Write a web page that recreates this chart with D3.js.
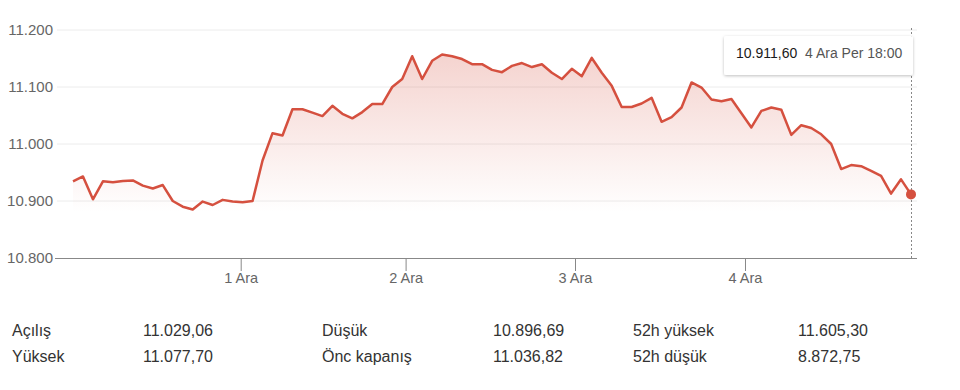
<!DOCTYPE html>
<html>
<head>
<meta charset="utf-8">
<script src="https://cdn.jsdelivr.net/npm/d3@7"></script>
<style>
  html, body { margin: 0; padding: 0; background: #fff; }
  svg { display: block; font-family: "Liberation Sans", Arial, Helvetica, sans-serif; }
</style>
</head>
<body>
<svg id="chart" width="960" height="390"></svg>
<script>
// ---- data ----
const values = [
  10934.6, 10943, 10903, 10934.6, 10933, 10935, 10936, 10927, 10922, 10928,
  10900, 10890, 10885, 10899, 10893, 10902, 10899,
  10898, 10900, 10971, 11019, 11015, 11061, 11061, 11055, 11049, 11067,
  11053, 11045, 11056, 11070, 11070, 11100, 11114,
  11154, 11114, 11146, 11157, 11154, 11149, 11140, 11140, 11130, 11126,
  11137, 11142, 11135, 11140, 11125, 11114, 11132,
  11119, 11151, 11125, 11102, 11065, 11065, 11071, 11081, 11039, 11047,
  11064, 11108, 11099, 11078, 11075, 11079, 11054,
  11029, 11058, 11064, 11060, 11016, 11033, 11028, 11017, 11000, 10956,
  10963, 10961, 10953, 10944, 10913, 10938, 10911.6
];
const yTicks = [10800, 10900, 11000, 11100, 11200];
const xTickPositions = [16.81, 33.34, 50.32, 67.36];
const xTickLabels = ["1 Ara", "2 Ara", "3 Ara", "4 Ara"];
const tooltipValue = "10.911,60";
const tooltipTime = "4 Ara Per 18:00";
const statLabels1 = ["Açılış", "Yüksek"];
const statValues1 = ["11.029,06", "11.077,70"];
const statLabels2 = ["Düşük", "Önc kapanış"];
const statValues2 = ["10.896,69", "11.036,82"];
const statLabels3 = ["52h yüksek", "52h düşük"];
const statValues3 = ["11.605,30", "8.872,75"];

// ---- layout ----
const svg = d3.select("#chart");
const lineColor = "#d5503f";
const fmt = v => d3.format(",")(v).replace(/,/g, ".");

const x = d3.scaleLinear().domain([0, values.length - 1]).range([73, 911]);
const y = d3.scaleLinear().domain([10800, 11200]).range([258, 30]);

// gradient
const defs = svg.append("defs");
const grad = defs.append("linearGradient")
  .attr("id", "areaGrad").attr("gradientUnits", "userSpaceOnUse")
  .attr("x1", 0).attr("x2", 0).attr("y1", 54).attr("y2", 212);
grad.append("stop").attr("offset", 0).attr("stop-color", lineColor).attr("stop-opacity", 0.25);
grad.append("stop").attr("offset", 1).attr("stop-color", lineColor).attr("stop-opacity", 0);

const shadow = defs.append("filter").attr("id", "shadow")
  .attr("x", "-10%").attr("y", "-30%").attr("width", "120%").attr("height", "170%");
shadow.append("feDropShadow").attr("dx", 0).attr("dy", 1).attr("stdDeviation", 1.5)
  .attr("flood-color", "#000").attr("flood-opacity", 0.25);

// gridlines
svg.append("g").selectAll("line").data(yTicks.slice(1)).join("line")
  .attr("x1", 57).attr("x2", 917)
  .attr("y1", d => y(d)).attr("y2", d => y(d))
  .attr("stroke", "#ececec").attr("stroke-width", 1);

// y labels
svg.append("g").selectAll("text").data(yTicks).join("text")
  .attr("x", 53).attr("y", d => y(d)).attr("dy", "0.35em")
  .attr("text-anchor", "end").attr("font-size", 15).attr("fill", "#666")
  .text(d => fmt(d));

// area
const area = d3.area().x((d, i) => x(i)).y0(258).y1(d => y(d));
svg.append("path").datum(values).attr("d", area).attr("fill", "url(#areaGrad)");

// x axis
const xAxis = d3.axisBottom(x)
  .tickValues(xTickPositions)
  .tickFormat((d, i) => xTickLabels[i])
  .tickSize(13).tickSizeOuter(0).tickPadding(2);
const gx = svg.append("g").attr("transform", "translate(0,258)").call(xAxis);
gx.select(".domain").remove();
gx.selectAll(".tick line").attr("stroke", "#888");
gx.selectAll(".tick text").attr("font-size", 14.5).attr("fill", "#666")
  .attr("font-family", "Liberation Sans, Arial, sans-serif");
svg.append("line").attr("x1", 55).attr("x2", 917).attr("y1", 258.5).attr("y2", 258.5)
  .attr("stroke", "#888").attr("stroke-width", 1);

// dotted marker line
const lastX = x(values.length - 1);
svg.append("line").attr("x1", lastX + 0.5).attr("x2", lastX + 0.5).attr("y1", 28).attr("y2", 258)
  .attr("stroke", "#888").attr("stroke-width", 1).attr("stroke-dasharray", "2,2");

// line
const line = d3.line().x((d, i) => x(i)).y(d => y(d));
svg.append("path").datum(values).attr("d", line)
  .attr("fill", "none").attr("stroke", lineColor).attr("stroke-width", 2.5)
  .attr("stroke-linejoin", "round");

// end dot
svg.append("circle").attr("cx", lastX).attr("cy", y(values[values.length - 1]))
  .attr("r", 5).attr("fill", lineColor);

// tooltip
const tip = svg.append("g");
tip.append("rect").attr("x", 724).attr("y", 36).attr("width", 189).attr("height", 39)
  .attr("rx", 2).attr("fill", "#fff").attr("filter", "url(#shadow)");
tip.append("text").attr("x", 736).attr("y", 58).attr("font-size", 14)
  .attr("fill", "#1a1a1a").text(tooltipValue);
tip.append("text").attr("x", 805).attr("y", 58).attr("font-size", 14)
  .attr("fill", "#555").text(tooltipTime);

// stats
const rowsY = [335.5, 362];
const cols = [
  {x: 12, data: statLabels1}, {x: 143, data: statValues1},
  {x: 322, data: statLabels2}, {x: 493, data: statValues2},
  {x: 633, data: statLabels3}, {x: 798, data: statValues3}
];
cols.forEach(c => {
  svg.append("g").selectAll("text").data(c.data).join("text")
    .attr("x", c.x).attr("y", (d, i) => rowsY[i])
    .attr("font-size", 16).attr("fill", "#333").text(d => d);
});
</script>
</body>
</html>
